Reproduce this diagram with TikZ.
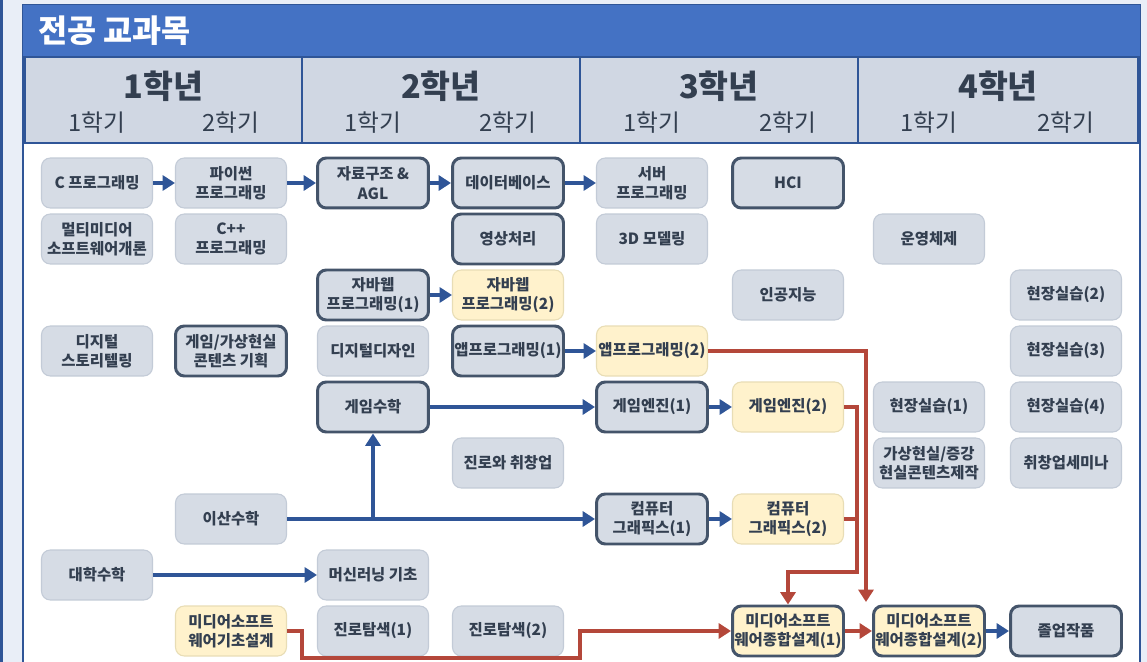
\documentclass[tikz,border=0pt]{standalone}
\usepackage{fontspec}
\setmainfont{Noto Sans CJK KR}
\usepackage{xcolor}
\usepackage{tikz}
\usetikzlibrary{arrows.meta,positioning}
\definecolor{bgpale}{HTML}{E9EEF7}
\definecolor{frameblue}{HTML}{2F5597}
\definecolor{titleblue}{HTML}{4472C4}
\definecolor{headgray}{HTML}{D0D7E3}
\definecolor{boxgray}{HTML}{D6DCE5}
\definecolor{boxline}{HTML}{C3CBD7}
\definecolor{darkline}{HTML}{44546A}
\definecolor{boxyellow}{HTML}{FFF2CC}
\definecolor{yellowline}{HTML}{E8DDB5}
\definecolor{txt}{HTML}{333F50}
\definecolor{redarr}{HTML}{B4473A}

\begin{document}
\begin{tikzpicture}[x=0.02cm, y=-0.02cm,
  block/.style={draw=boxline, fill=boxgray, line width=0.6pt,
    rounded corners=5pt, minimum width=2.22cm, minimum height=1.0cm,
    align=center, inner sep=1pt, text=txt,
    font=\fontsize{8.8}{11}\selectfont\bfseries},
  core/.style={block, draw=darkline, line width=1.7pt},
  adv/.style={block, fill=boxyellow, draw=yellowline},
  advcore/.style={core, fill=boxyellow},
  arr/.style={-{Triangle[length=7pt,width=8.5pt]}, line width=2.2pt, frameblue},
  rarr/.style={-{Triangle[length=7pt,width=8.5pt]}, line width=2.2pt, redarr},
]
  \useasboundingbox (0,0) rectangle (1147,662);

  % frame and headers
  \fill[bgpale] (0,0) rectangle (1147,662);
  \fill[frameblue] (0,0) rectangle (3,662);
  \draw[frameblue, fill=white, line width=1.6pt] (23,5) rectangle (1140,700);
  \fill[titleblue] (23,5) rectangle (1140,56);
  \node[anchor=west, text=white, font=\fontsize{18}{21}\selectfont\bfseries]
    (title) at (32,31) {전공 교과목};
  \foreach \xa/\xb/\yr in {25/302/1, 302/580/2, 580/858/3, 858/1138/4} {
    \draw[frameblue, fill=headgray, line width=1pt] (\xa,57) rectangle (\xb,143);
    \node[text=txt, font=\fontsize{18.5}{21}\selectfont\bfseries]
      (yr\yr) at ({(\xa+\xb)/2},86) {\yr{}학년};
  }
  \foreach \cx [count=\i] in {97,231,373,508,652,788,929,1066} {
    \pgfmathtruncatemacro\sem{2-mod(\i,2)}
    \node[text=txt, font=\fontsize{13.5}{15}\selectfont] (sem\i) at (\cx,123) {\sem{}학기};
  }

  % 1학년
  \node[block] (cprog) at (97,183) {C 프로그래밍};
  \node[block] (mmintro) at (97,239) {멀티미디어\\소프트웨어개론};
  \node[block] (story) at (97,351) {디지털\\스토리텔링};
  \node[block] (calc) at (97,575) {대학수학};
  \node[block] (python) at (231,183) {파이썬\\프로그래밍};
  \node[block] (cpp) at (231,239) {C++\\프로그래밍};
  \node[core] (gameplan) at (231,351) {게임/가상현실\\콘텐츠 기획};
  \node[block] (discrete) at (231,519) {이산수학};
  \node[adv] (mdbasic) at (231,631) {미디어소프트\\웨어기초설계};

  % 2학년
  \node[core] (dsalg) at (373,183) {자료구조 \&\\AGL};
  \node[core] (jweb1) at (373,295) {자바웹\\프로그래밍(1)};
  \node[block] (ddesign) at (373,351) {디지털디자인};
  \node[core] (gmath) at (373,407) {게임수학};
  \node[block] (mlbasic) at (373,575) {머신러닝 기초};
  \node[block] (career1) at (373,631) {진로탐색(1)};
  \node[core] (db) at (508,183) {데이터베이스};
  \node[core] (imgproc) at (508,239) {영상처리};
  \node[adv] (jweb2) at (508,295) {자바웹\\프로그래밍(2)};
  \node[core] (app1) at (508,351) {앱프로그래밍(1)};
  \node[block] (startup) at (508,463) {진로와 취창업};
  \node[block] (career2) at (508,631) {진로탐색(2)};

  % 3학년
  \node[block] (server) at (652,183) {서버\\프로그래밍};
  \node[block] (model3d) at (652,239) {3D 모델링};
  \node[adv] (app2) at (652,351) {앱프로그래밍(2)};
  \node[core] (engine1) at (652,407) {게임엔진(1)};
  \node[core] (cg1) at (652,519) {컴퓨터\\그래픽스(1)};
  \node[core] (hci) at (788,183) {HCI};
  \node[block] (ai) at (788,295) {인공지능};
  \node[adv] (engine2) at (788,407) {게임엔진(2)};
  \node[adv] (cg2) at (788,519) {컴퓨터\\그래픽스(2)};
  \node[advcore] (md1) at (788,631) {미디어소프트\\웨어종합설계(1)};

  % 4학년
  \node[block] (os) at (929,239) {운영체제};
  \node[block] (intern1) at (929,407) {현장실습(1)};
  \node[block] (vrar) at (929,463) {가상현실/증강\\현실콘텐츠제작};
  \node[advcore] (md2) at (929,631) {미디어소프트\\웨어종합설계(2)};
  \node[block] (intern2) at (1066,295) {현장실습(2)};
  \node[block] (intern3) at (1066,351) {현장실습(3)};
  \node[block] (intern4) at (1066,407) {현장실습(4)};
  \node[block] (seminar) at (1066,463) {취창업세미나};
  \node[core] (capstone) at (1066,631) {졸업작품};

  % blue prerequisite arrows
  \draw[arr] (cprog) -- (python);
  \draw[arr] (python) -- (dsalg);
  \draw[arr] (dsalg) -- (db);
  \draw[arr] (db) -- (server);
  \draw[arr] (jweb1) -- (jweb2);
  \draw[arr] (app1) -- (app2);
  \draw[arr] (gmath) -- (engine1);
  \draw[arr] (engine1) -- (engine2);
  \draw[arr] (discrete) -- (cg1);
  \draw[arr] (discrete.east -| gmath.south) -- (gmath);
  \draw[arr] (cg1) -- (cg2);
  \draw[arr] (calc) -- (mlbasic);
  \draw[arr] (md2) -- (capstone);

  % red design-track arrows
  \coordinate (dropA) at (866,602);
  \coordinate (merge) at (857,572);
  \draw[rarr] (app2.east) -| (dropA);
  \draw[rarr] (engine2.east) -| (merge) -| (md1.north);
  \draw[redarr, line width=2.2pt] (cg2.east) -- (cg2.east -| merge);
  \draw[rarr] (mdbasic.east) -- ++(15,0) |- (580,658) |- (md1.west);
  \draw[rarr] (md1) -- (md2);
\end{tikzpicture}
\end{document}
